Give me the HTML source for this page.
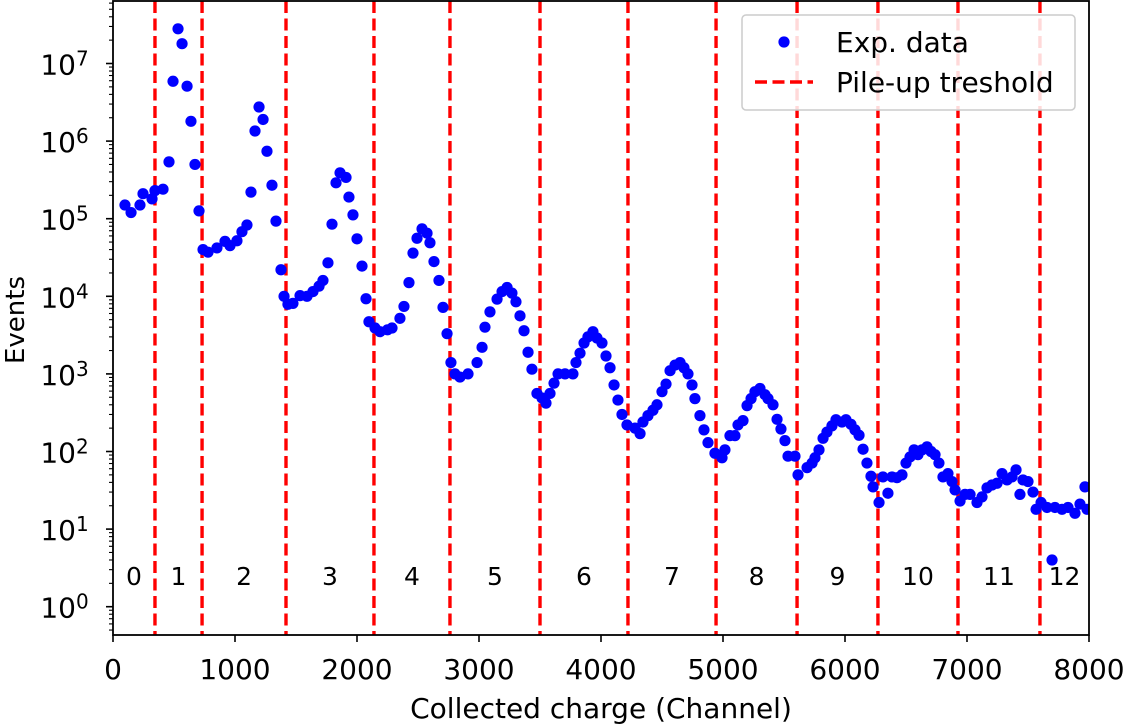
<!DOCTYPE html>
<html><head><meta charset="utf-8"><style>
html,body{margin:0;padding:0;background:#fff;}
svg{display:block;font-family:"DejaVu Sans","Liberation Sans",sans-serif;}
</style></head><body>
<svg id="chart" width="1125" height="725" viewBox="0 0 1125 725">
<g id="plot"></g>
</svg>
<script>
const channels=[98,148,221,246,320,344,410,459,492,533,566,607,639,672,705,738,779,852,918,959,1016,1057,1098,1131,1164,1197,1230,1262,1303,1336,1377,1402,1434,1475,1533,1590,1639,1689,1721,1762,1795,1828,1861,1910,1934,1967,2000,2041,2074,2098,2148,2189,2250,2287,2352,2385,2426,2459,2492,2533,2574,2598,2631,2672,2705,2738,2770,2803,2844,2910,2984,3025,3049,3090,3148,3189,3230,3270,3303,3336,3369,3402,3434,3475,3516,3549,3582,3615,3648,3705,3770,3795,3828,3861,3893,3934,3967,4008,4041,4074,4107,4139,4172,4213,4279,4320,4344,4385,4426,4459,4500,4533,4566,4607,4648,4680,4713,4746,4770,4811,4844,4877,4934,4992,5016,5057,5098,5123,5164,5197,5230,5262,5303,5344,5369,5410,5443,5475,5508,5533,5590,5615,5689,5730,5754,5787,5820,5852,5893,5926,5975,6008,6049,6082,6115,6148,6180,6213,6230,6279,6311,6352,6385,6426,6467,6500,6533,6566,6598,6631,6672,6705,6738,6770,6803,6844,6877,6902,6943,6984,7025,7082,7123,7164,7205,7246,7287,7328,7369,7402,7434,7459,7500,7541,7566,7607,7656,7697,7721,7779,7828,7885,7926,7967,7984];
const events=[1.5e5,1.2e5,1.5e5,2.1e5,1.8e5,2.3e5,2.4e5,5.4e5,5.9e6,2.8e7,1.8e7,5.1e6,1.8e6,5.0e5,1.26e5,4.0e4,3.7e4,4.2e4,5.1e4,4.5e4,5.2e4,6.8e4,8.3e4,2.2e5,1.35e6,2.75e6,1.9e6,7.4e5,2.7e5,9.3e4,2.2e4,1.0e4,7.9e3,8.1e3,1.02e4,1.0e4,1.15e4,1.35e4,1.6e4,2.7e4,8.5e4,2.9e5,3.9e5,3.4e5,1.9e5,1.12e5,5.5e4,2.45e4,9.3e3,4.7e3,3.9e3,3.5e3,3.7e3,3.9e3,5.2e3,7.4e3,1.5e4,3.6e4,5.6e4,7.4e4,6.5e4,4.9e4,2.8e4,1.6e4,7.2e3,3.3e3,1.4e3,1.0e3,9.1e2,1.0e3,1.4e3,2.2e3,4.0e3,6.3e3,9.2e3,1.15e4,1.3e4,1.1e4,8.5e3,5.6e3,3.6e3,1.9e3,1.15e3,5.6e2,4.9e2,4.2e2,5.6e2,7.6e2,1.0e3,1.0e3,1.0e3,1.4e3,1.85e3,2.5e3,3.0e3,3.5e3,2.9e3,2.5e3,1.7e3,1.2e3,7.2e2,4.6e2,3.0e2,2.2e2,2.0e2,1.7e2,2.4e2,2.9e2,3.4e2,4.0e2,5.9e2,7.4e2,1.1e3,1.3e3,1.4e3,1.2e3,1.0e3,7.2e2,4.8e2,2.9e2,1.9e2,1.3e2,95,83,105,160,160,220,250,390,480,590,650,540,480,400,260,195,138,87,87,50,62,71,83,105,148,178,214,257,240,257,224,190,162,107,71,48,35,22,47,29,47,46,50,71,85,105,91,105,115,100,91,71,47,52,41,32,23,28,28,22,26,34,37,39,52,43,47,58,28,43,41,30,18,22,19,4,19,18,19,16,21,35,18];
const thresholds=[344,730,1418,2139,2762,3500,4221,4943,5607,6270,6926,7598];
const regionLabels=["0","1","2","3","4","5","6","7","8","9","10","11","12"];
const xTicks=[0,1000,2000,3000,4000,5000,6000,7000,8000];
const yTickExps=[0,1,2,3,4,5,6,7];

const L=113,R=1089,T=1,B=635,XMAX=8000;
const Y0=606.7,DEC=77.6;
const NS="http://www.w3.org/2000/svg";
const g=document.getElementById('plot');
function X(v){return L+(v/XMAX)*(R-L);}
function Y(v){return Y0-Math.log10(v)*DEC;}
function mk(tag,attrs,parent){const e=document.createElementNS(NS,tag);for(const k in attrs)e.setAttribute(k,attrs[k]);(parent||g).appendChild(e);return e;}

const defs=mk('defs',{});
const cp=mk('clipPath',{id:'clip'},defs);
mk('rect',{x:L,y:T,width:R-L,height:B-T},cp);

thresholds.forEach((t,i)=>{
  const ln=mk('line',{x1:X(t),x2:X(t),y1:T,y2:B,stroke:'#ff0000','stroke-width':3.4,'stroke-dasharray':'12,5.5'});
  
  
});
const bounds=[0].concat(thresholds).concat([XMAX]);
regionLabels.forEach((s,i)=>{
  const t=mk('text',{x:X((bounds[i]+bounds[i+1])/2),y:585,'text-anchor':'middle','font-size':25,fill:'#000'});
  t.textContent=s;
  
  
});
const pg=mk('g',{'clip-path':'url(#clip)'});


channels.forEach((c,i)=>{
  const p=mk('circle',{cx:X(c),cy:Y(events[i]),r:5.6,fill:'#0000ff'},pg);
  
  
});
const fr=mk('rect',{x:L,y:T,width:R-L,height:B-T,fill:'none',stroke:'#000','stroke-width':1.8});


xTicks.forEach(v=>{
  mk('line',{x1:X(v),x2:X(v),y1:B,y2:B+7,stroke:'#000','stroke-width':1.6});
  const t=mk('text',{x:X(v),y:B+44,'text-anchor':'middle','font-size':28,fill:'#000'});
  t.textContent=String(v);
  
  
});
for(let e=-1;e<=7;e++){
  for(let m=1;m<10;m++){
    const v=m*Math.pow(10,e);const y=Y(v);
    if(y<T||y>B)continue;
    mk('line',{x1:L,x2:L-(m===1?7:4),y1:y,y2:y,stroke:'#000','stroke-width':m===1?1.6:1.1});
  }
}
yTickExps.forEach(e=>{
  const y=Y(Math.pow(10,e));
  const t=mk('text',{x:76,y:y+11,'text-anchor':'end','font-size':28,fill:'#000'});
  t.textContent='10';
  
  
  const s=mk('text',{x:76,y:y+2,'text-anchor':'start','font-size':20,fill:'#000'});
  s.textContent=String(e);
  
  
});
</script>
<svg style="position:absolute;left:0;top:0" width="1125" height="725">
<text x="601" y="718" text-anchor="middle" font-size="28" font-family="DejaVu Sans, Liberation Sans, sans-serif">Collected charge (Channel)</text>
<text transform="translate(24,320) rotate(-90)" text-anchor="middle" font-size="26" font-family="DejaVu Sans, Liberation Sans, sans-serif">Events</text>
<g>
<rect x="742" y="15" width="333" height="95" rx="4" fill="#fff" fill-opacity="0.85" stroke="#cccccc" stroke-width="1.5"/>
<circle cx="784" cy="42" r="5.6" fill="#0000ff"/>
<text x="836" y="52" font-size="28" font-family="DejaVu Sans, Liberation Sans, sans-serif">Exp. data</text>
<line x1="755" y1="82" x2="813" y2="82" stroke="#ff0000" stroke-width="3.4" stroke-dasharray="12,5.5"/>
<text x="836" y="92" font-size="28" font-family="DejaVu Sans, Liberation Sans, sans-serif">Pile-up treshold</text>
</g>
</svg>
</body></html>
